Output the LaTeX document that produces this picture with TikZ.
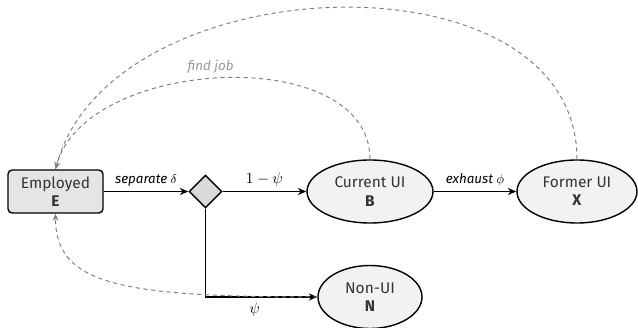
\documentclass[tikz,border=0pt]{standalone}
\usepackage{fontspec}
\setmainfont{Fira Sans}
\usetikzlibrary{arrows.meta,shapes.geometric}
\begin{document}
\begin{tikzpicture}[font=\fontsize{11}{13}\selectfont,
                box/.style={draw, rectangle, rounded corners=3pt, line width=1pt, fill=gray!20, text=black!80, minimum width=2.375cm, minimum height=1.075cm, align=center, inner sep=0pt},
                split/.style={draw, diamond, line width=1pt, fill=gray!30, minimum width=0.825cm, minimum height=0.825cm, inner sep=0pt},
                ell/.style={draw, ellipse, line width=1pt, fill=gray!10, text=black!80, minimum width=3.15cm, minimum height=1.575cm, align=center, inner sep=0pt},
                flow/.style={-{Stealth[length=6pt,width=5pt]}, line width=1pt},
                back/.style={-{Stealth[length=5pt,width=4pt]}, gray, line width=0.7pt, dash pattern=on 3pt off 2.5pt},
                lab/.style={font=\fontsize{9.5}{11}\selectfont\itshape}]

                \useasboundingbox (0,0) rectangle (15.95,8.2);

                \node[box] (emp) at (1.3875,3.4125) {Employed\\\textbf{E}};
                \node[split] (dec) at (5.1375,3.4125) {};
                \node[ell] (cur) at (9.25,3.4125) {Current UI\\\textbf{B}};
                \node[ell, minimum width=3cm] (form) at (14.425,3.4125) {Former UI\\\textbf{X}};
                \node[ell, minimum width=2.6cm] (non) at (9.25,0.775) {Non-UI\\\textbf{N}};

                \draw[flow] (emp) -- node[above, lab] {separate $\delta$} (dec);
                \draw[flow] (dec) -- node[above] {$1-\psi$} (cur);
                \draw[flow] (cur) -- node[above, lab] {exhaust $\phi$} (form);
                \draw[flow] (dec.south) |- node[pos=0.72, below] {$\psi$} (non.west);

                \draw[back] (cur.north) to[out=90, in=75, looseness=0.95] node[pos=0.53, above, lab, text=gray!80] {find job} (emp.north);
                \draw[back] (form.north) to[out=90, in=75, looseness=1.04] (emp.north);
                \draw[back] (non.west) .. controls +(-5,0) and +(0,-1.75) .. (emp.south);
            \end{tikzpicture}
\end{document}
